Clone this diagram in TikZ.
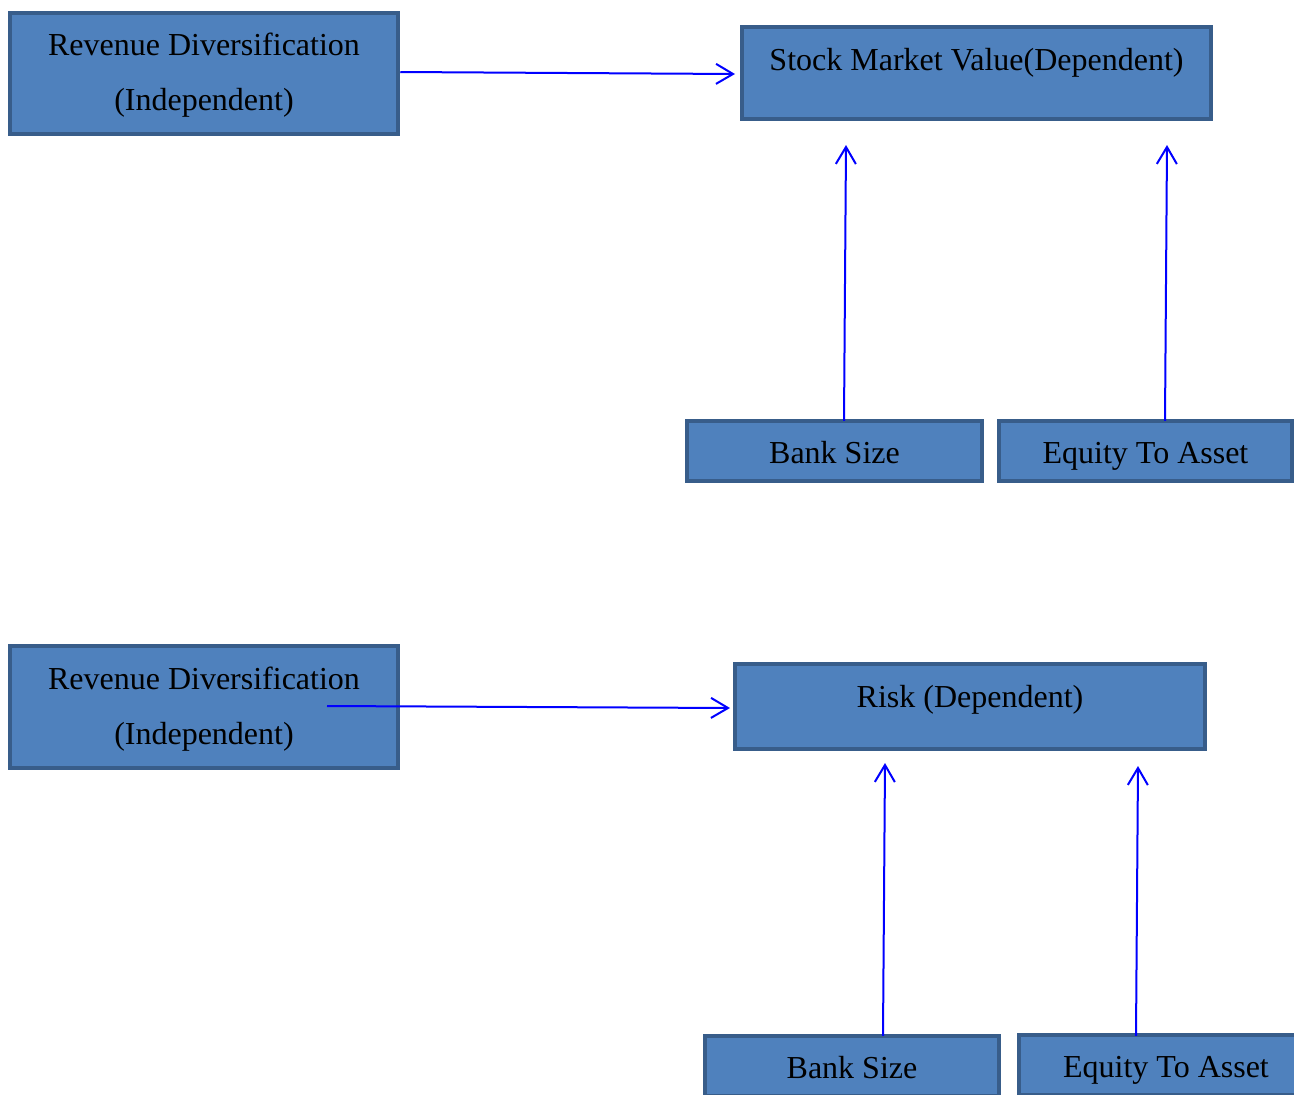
\documentclass[tikz,border=0pt]{standalone}
\usepackage{fontspec}
\setmainfont{Liberation Serif}
\usetikzlibrary{arrows.meta,calc}
\definecolor{boxfill}{HTML}{4F81BD}
\definecolor{boxline}{HTML}{385D8A}
\tikzset{
  box/.style={draw=boxline, fill=boxfill, line width=4.5pt, rectangle, inner sep=0pt, align=center,
    font=\fontsize{32}{55}\selectfont, text height=25pt, text depth=0pt},
  txt/.style={inner sep=0pt, align=center, font=\fontsize{32}{55}\selectfont},
  conn/.style={draw=blue, line width=2pt, -{Straight Barb[length=17pt,width=20pt,line width=2pt]}}
}
\begin{document}
\begin{tikzpicture}[x=1pt,y=-1pt]
\useasboundingbox (0,0) rectangle (1294,1095);
% top diagram
\node[box, minimum width=388pt, minimum height=121pt] (rd1) at (204,73.5) {};
\node[txt] (rd1t) at ([yshift=-2pt]rd1.center) {Revenue Diversification\\(Independent)};
\node[box, minimum width=469pt, minimum height=92pt] (sm) at (976.5,73) {};
\node[txt, text height=25pt, text depth=0pt] (smt) at ([yshift=15.5pt]sm.center) {Stock Market Value(Dependent)};
\node[box, minimum width=295pt, minimum height=60pt] (bs1) at (834.5,451) {Bank Size};
\node[box, minimum width=293pt, minimum height=60pt] (eq1) at (1145.5,451) {Equity To Asset};
% bottom diagram
\node[box, minimum width=388pt, minimum height=122pt] (rd2) at (204,707) {};
\node[txt] (rd2t) at ([yshift=-2pt]rd2.center) {Revenue Diversification\\(Independent)};
\node[box, minimum width=470pt, minimum height=85pt] (rk) at (970,706.5) {};
\node[txt, text height=25pt, text depth=0pt] (rkt) at ([yshift=11.5pt]rk.center) {Risk (Dependent)};
\node[box, minimum width=294pt, minimum height=60pt] (bs2) at (852,1066) {Bank Size};
\node[box, minimum width=294pt, minimum height=60pt] (eq2) at (1166,1065) {Equity To Asset};
% free ends
\coordinate (e1) at (735,74);
\coordinate (e2) at (846,145);
\coordinate (e3) at (1167,145);
\coordinate (e4) at (730,708);
\coordinate (e5) at (885,763);
\coordinate (e6) at (1138,766);
% connectors
\draw[conn] ([yshift=1.5pt]rd1.east) -- (e1);
\draw[conn] ([xshift=9.5pt,yshift=-2pt]bs1.north) -- (e2);
\draw[conn] ([xshift=19.5pt,yshift=-2pt]eq1.north) -- (e3);
\draw[conn] ([xshift=123pt,yshift=1pt]rd2.center) -- (e4);
\draw[conn] ([xshift=31pt,yshift=-2pt]bs2.north) -- (e5);
\draw[conn] ([xshift=-30pt,yshift=-3pt]eq2.north) -- (e6);
\end{tikzpicture}
\end{document}
